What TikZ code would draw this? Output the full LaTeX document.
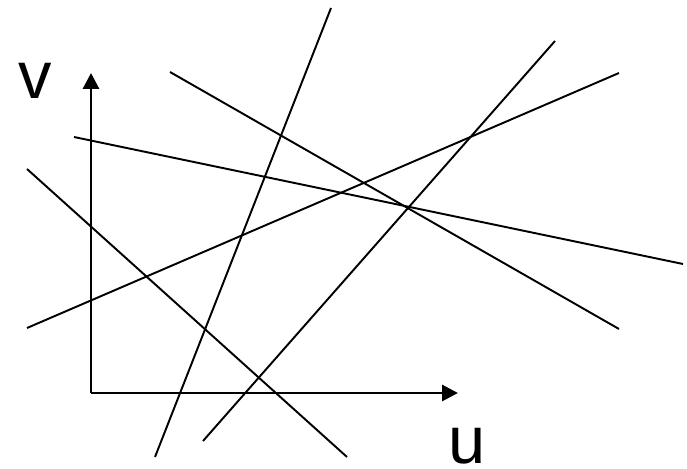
\documentclass[tikz,border=0pt]{standalone}
\usepackage{fontspec}
\setmainfont{Liberation Sans}
\usetikzlibrary{arrows.meta, positioning}

\tikzset{
  axis/.style={line width=1.7pt, -{Triangle[length=0.32cm, width=0.32cm]}},
  ray/.style={line width=1.1pt},
  axislabel/.style={inner sep=0pt, font=\fontsize{38}{40}\selectfont}
}

\begin{document}
\begin{tikzpicture}[x=0.02cm, y=-0.02cm, line cap=butt]
  \useasboundingbox (0,0) rectangle (687,469);
  % axes
  \coordinate (o) at (91,393);
  \coordinate (vtip) at (91,73);
  \coordinate (utip) at (458,393);
  \draw[axis] (o) -- (vtip);
  \draw[axis] (o) -- (utip);
  \node[axislabel] (vlab) at (35,81) {v};
  \node[axislabel] (ulab) at (467,446) {u};
  % the lines
  \foreach \n/\a/\b in {1/{155,457}/{331,8}, 2/{203,441}/{555,41},
                        3/{27,328}/{619,73}, 4/{170,72}/{619,329},
                        5/{74,137}/{683,264}, 6/{27,169}/{347,457}} {
    \coordinate (l\n a) at (\a);
    \coordinate (l\n b) at (\b);
    \draw[ray] (l\n a) -- (l\n b);
  }
\end{tikzpicture}
\end{document}
